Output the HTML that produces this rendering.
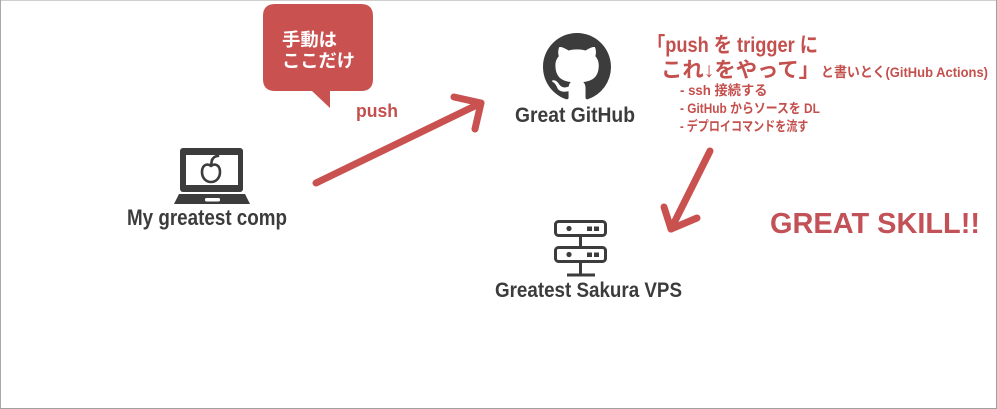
<!DOCTYPE html>
<html>
<head>
<meta charset="utf-8">
<style>
  html,body{margin:0;padding:0;background:#fff;}
  svg{display:block;}
  text{font-family:"Liberation Sans","Noto Sans CJK JP",sans-serif;font-weight:bold;}
</style>
</head>
<body>
<svg width="997" height="409" viewBox="0 0 997 409" xmlns="http://www.w3.org/2000/svg">
  <rect x="0" y="0" width="997" height="409" fill="#fff"/>
  <!-- border -->
  <line x1="0" y1="0.5" x2="997" y2="0.5" stroke="#cfcfcf" stroke-width="1"/>
  <line x1="0.5" y1="0" x2="0.5" y2="409" stroke="#a8a8a8" stroke-width="1"/>
  <line x1="996.5" y1="0" x2="996.5" y2="409" stroke="#a0a0a0" stroke-width="1"/>
  <line x1="0" y1="408.5" x2="997" y2="408.5" stroke="#a0a0a0" stroke-width="1"/>

  <!-- speech bubble -->
  <path d="M275,4 H361 Q373,4 373,16 V79 Q373,91 361,91 H330 V108 L312,91 H275 Q263,91 263,79 V16 Q263,4 275,4 Z" fill="#c9514f"/>
  <text x="282" y="46" font-size="18" fill="#fff" textLength="55" lengthAdjust="spacingAndGlyphs">手動は</text>
  <text x="282" y="67" font-size="18" fill="#fff" textLength="73" lengthAdjust="spacingAndGlyphs">ここだけ</text>

  <!-- push label -->
  <text x="356" y="117" font-size="18" fill="#c4504e" textLength="42" lengthAdjust="spacingAndGlyphs">push</text>

  <!-- arrows -->
  <g stroke="#c9514f" stroke-width="7" stroke-linecap="round" stroke-linejoin="round" fill="none">
    <path d="M316,183 L481,103"/>
    <path d="M454,97 L481,103 L475,129"/>
    <path d="M710,151 L671,229"/>
    <path d="M664,207 L671,229 L697,218"/>
  </g>

  <!-- laptop icon -->
  <rect x="180" y="148" width="63" height="44" rx="3" fill="#3c3c3c"/>
  <rect x="186" y="155" width="52" height="30" fill="#fff"/>
  <path d="M179,194 H245 L250,204 H174 Z" fill="#3c3c3c"/>
  <rect x="205" y="198" width="15" height="3.5" rx="1.5" fill="#fff"/>
  <g fill="none" stroke="#3c3c3c" stroke-width="2.6" stroke-linecap="round" stroke-linejoin="round">
    <path d="M211,166 C207,163 202,165 202,172 C202,178 206,182 211,182 C216,182 220,178 220,172 C220,165 215,163 211,166 Z"/>
    <path d="M211,165 L212,160"/>
    <path d="M212,160 Q214,156 218,156"/>
  </g>
  <text x="127" y="225" font-size="22" fill="#3c3c3c" textLength="160" lengthAdjust="spacingAndGlyphs">My greatest comp</text>

  <!-- github mark -->
  <path transform="translate(543,33) scale(4.25)" fill="#3c3c3c" d="M8 0C3.58 0 0 3.58 0 8c0 3.54 2.29 6.53 5.47 7.59.4.07.55-.17.55-.38 0-.19-.01-.82-.01-1.49-2.01.37-2.53-.49-2.69-.94-.09-.23-.48-.94-.82-1.13-.28-.15-.68-.52-.01-.53.63-.01 1.08.58 1.23.82.72 1.21 1.87.87 2.33.66.07-.52.28-.87.51-1.07-1.78-.2-3.64-.89-3.64-3.95 0-.87.31-1.59.82-2.15-.08-.2-.36-1.02.08-2.12 0 0 .67-.21 2.2.82.64-.18 1.32-.27 2-.27.68 0 1.36.09 2 .27 1.53-1.04 2.2-.82 2.2-.82.44 1.1.16 1.92.08 2.12.51.56.82 1.27.82 2.15 0 3.07-1.87 3.75-3.65 3.95.29.25.54.73.54 1.48 0 1.07-.01 1.93-.01 2.2 0 .21.15.46.55.38A8.013 8.013 0 0 0 16 8c0-4.42-3.58-8-8-8z"/>
  <text x="515" y="122" font-size="21" fill="#3c3c3c" textLength="120" lengthAdjust="spacingAndGlyphs">Great GitHub</text>

  <!-- server icon -->
  <g fill="none" stroke="#3c3c3c" stroke-width="3">
    <rect x="555.5" y="221.5" width="50" height="14" rx="3"/>
    <rect x="555.5" y="247.5" width="50" height="14" rx="3"/>
    <path d="M580.5,237 V246 M580.5,263 V275 M567,275 H595"/>
  </g>
  <g fill="#3c3c3c">
    <circle cx="569" cy="228.5" r="2.6"/>
    <rect x="587" y="226.5" width="5" height="4.5"/>
    <rect x="594" y="226.5" width="5" height="4.5"/>
    <circle cx="569" cy="254.5" r="2.6"/>
    <rect x="587" y="252.5" width="5" height="4.5"/>
    <rect x="594" y="252.5" width="5" height="4.5"/>
  </g>
  <text x="495" y="297" font-size="21" fill="#3c3c3c" textLength="187" lengthAdjust="spacingAndGlyphs">Greatest Sakura VPS</text>

  <!-- right annotation -->
  <text x="647" y="52" font-size="21" fill="#c4504e" textLength="171" lengthAdjust="spacingAndGlyphs">「push を trigger に</text>
  <text x="661" y="77" font-size="21" fill="#c4504e" textLength="159" lengthAdjust="spacingAndGlyphs">これ↓をやって」</text>
  <text x="821" y="77" font-size="14" fill="#c4504e" textLength="167" lengthAdjust="spacingAndGlyphs">と書いとく(GitHub Actions)</text>

  <text transform="translate(680,95) scale(0.98,1)" font-size="13.5" fill="#c4504e">- ssh 接続する</text>
  <text transform="translate(680,113) scale(0.88,1)" font-size="13.5" fill="#c4504e">- GitHub からソースを DL</text>
  <text transform="translate(680,131) scale(0.82,1)" font-size="13.5" fill="#c4504e">- デプロイコマンドを流す</text>

  <!-- GREAT SKILL -->
  <text x="770" y="233" font-size="29" fill="#c25257" textLength="210" lengthAdjust="spacingAndGlyphs">GREAT SKILL!!</text>
</svg>
</body>
</html>
